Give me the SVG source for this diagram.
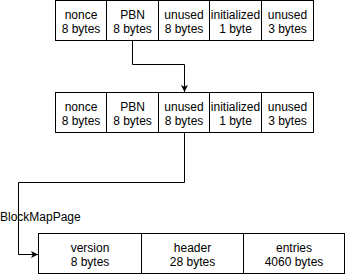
<svg xmlns="http://www.w3.org/2000/svg" width="346" height="275" viewBox="0 0 346 275">
  <style>
    .cell { fill: #ffffff; stroke: #000000; stroke-width: 1; }
    .lbl { font-family: "Liberation Sans", Arial, sans-serif; font-size: 12px; fill: #000000; text-anchor: middle; }
    .edge { fill: none; stroke: #000000; stroke-width: 1; }
  </style>
  <defs>
    <marker id="arrow" viewBox="0 0 10 10" refX="10" refY="5" markerWidth="7" markerHeight="7" markerUnits="userSpaceOnUse" orient="auto">
      <path d="M0 0 L10 5 L0 10 L2.5 5 Z" fill="#000000"/>
    </marker>
  </defs>
  <rect width="346" height="275" fill="#ffffff"/>

  <!-- connectors -->
  <g id="connectors">
    <path class="edge" d="M132.5 40.5 V64.5 H184.5 V92" marker-end="url(#arrow)"/>
    <path class="edge" d="M184.5 132.5 V182.5 H18.5 V254.5 H38" marker-end="url(#arrow)"/>
    <text x="0" y="221" font-family="Liberation Sans, Arial, sans-serif" font-size="12" fill="#000000">BlockMapPage</text>
  </g>

  <!-- first row -->
  <g id="row1-nonce">
    <rect class="cell" x="55.5" y="0.5" width="51" height="40"/>
    <text class="lbl" x="81" y="18.5">nonce</text>
    <text class="lbl" x="81" y="32.5">8 bytes</text>
  </g>
  <g id="row1-pbn">
    <rect class="cell" x="106.5" y="0.5" width="52" height="40"/>
    <text class="lbl" x="132.5" y="18.5">PBN</text>
    <text class="lbl" x="132.5" y="32.5">8 bytes</text>
  </g>
  <g id="row1-unused">
    <rect class="cell" x="158.5" y="0.5" width="51" height="40"/>
    <text class="lbl" x="184" y="18.5">unused</text>
    <text class="lbl" x="184" y="32.5">8 bytes</text>
  </g>
  <g id="row1-initialized">
    <rect class="cell" x="209.5" y="0.5" width="52" height="40"/>
    <text class="lbl" x="235.5" y="18.5">initialized</text>
    <text class="lbl" x="235.5" y="32.5">1 byte</text>
  </g>
  <g id="row1-unused2">
    <rect class="cell" x="261.5" y="0.5" width="52" height="40"/>
    <text class="lbl" x="287.5" y="18.5">unused</text>
    <text class="lbl" x="287.5" y="32.5">3 bytes</text>
  </g>

  <!-- second row -->
  <g id="row2-nonce">
    <rect class="cell" x="55.5" y="92.5" width="51" height="40"/>
    <text class="lbl" x="81" y="110.5">nonce</text>
    <text class="lbl" x="81" y="124.5">8 bytes</text>
  </g>
  <g id="row2-pbn">
    <rect class="cell" x="106.5" y="92.5" width="52" height="40"/>
    <text class="lbl" x="132.5" y="110.5">PBN</text>
    <text class="lbl" x="132.5" y="124.5">8 bytes</text>
  </g>
  <g id="row2-unused">
    <rect class="cell" x="158.5" y="92.5" width="51" height="40"/>
    <text class="lbl" x="184" y="110.5">unused</text>
    <text class="lbl" x="184" y="124.5">8 bytes</text>
  </g>
  <g id="row2-initialized">
    <rect class="cell" x="209.5" y="92.5" width="52" height="40"/>
    <text class="lbl" x="235.5" y="110.5">initialized</text>
    <text class="lbl" x="235.5" y="124.5">1 byte</text>
  </g>
  <g id="row2-unused2">
    <rect class="cell" x="261.5" y="92.5" width="52" height="40"/>
    <text class="lbl" x="287.5" y="110.5">unused</text>
    <text class="lbl" x="287.5" y="124.5">3 bytes</text>
  </g>

  <!-- block map page -->
  <g id="page-version">
    <rect class="cell" x="38.5" y="233.5" width="103" height="40"/>
    <text class="lbl" x="90" y="251.5">version</text>
    <text class="lbl" x="90" y="265.5">8 bytes</text>
  </g>
  <g id="page-header">
    <rect class="cell" x="141.5" y="233.5" width="102" height="40"/>
    <text class="lbl" x="192.5" y="251.5">header</text>
    <text class="lbl" x="192.5" y="265.5">28 bytes</text>
  </g>
  <g id="page-entries">
    <rect class="cell" x="243.5" y="233.5" width="101" height="40"/>
    <text class="lbl" x="294" y="251.5">entries</text>
    <text class="lbl" x="294" y="265.5">4060 bytes</text>
  </g>
</svg>
